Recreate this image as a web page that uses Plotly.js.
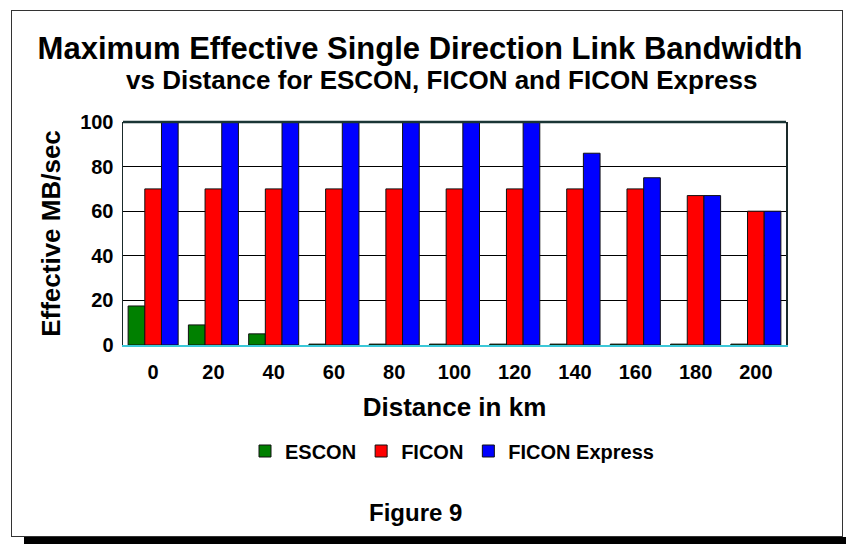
<!DOCTYPE html>
<html>
<head>
<meta charset="utf-8">
<script src="https://cdn.plot.ly/plotly-3.0.1.min.js"></script>
<style>
  html, body { margin: 0; padding: 0; background: #fff; }
  #wrap { position: relative; width: 846px; height: 544px; overflow: hidden; }
  #frame { position: absolute; left: 11px; top: 10px; width: 830px; height: 525px; border: 1.5px solid #333; }
  #shadow { position: absolute; left: 24px; top: 537px; width: 822px; height: 7px; background: #000; }
  #chart { position: absolute; left: 0; top: 0; width: 846px; height: 544px; }
</style>
</head>
<body>
<div id="wrap">
  <div id="frame"></div>
  <div id="shadow"></div>
  <div id="chart"></div>
</div>
<script>
const distances = ['0', '20', '40', '60', '80', '100', '120', '140', '160', '180', '200'];
const escon = [17.5, 9, 5, 0.4, 0.4, 0.4, 0.4, 0.4, 0.4, 0.4, 0.4];
const ficon = [70, 70, 70, 70, 70, 70, 70, 70, 70, 67, 60];
const ficonExpress = [100, 100, 100, 100, 100, 100, 100, 86, 75, 67, 60];
const yTicks = [0, 20, 40, 60, 80, 100];

const FONT = 'Liberation Sans, Arial, Helvetica, sans-serif';
const line = { color: '#111', width: 1 };

const traces = [
  { type: 'bar', name: '<b>ESCON</b>', x: distances, y: escon, marker: { color: '#008000', line: line } },
  { type: 'bar', name: '<b>FICON</b>', x: distances, y: ficon, marker: { color: '#FF0000', line: line } },
  { type: 'bar', name: '<b>FICON Express</b>', x: distances, y: ficonExpress, marker: { color: '#0000FF', line: line } }
];

const L = 123, R = 60, T = 122, B = 199;
const W = 846, H = 544;
const pw = W - L - R, ph = H - T - B;
const px2x = p => (p - L) / pw;
const py2y = p => (H - B - p) / ph;

const layout = {
  width: W, height: H,
  paper_bgcolor: 'rgba(0,0,0,0)',
  plot_bgcolor: '#fff',
  margin: { l: L, r: R, t: T, b: B, pad: 0 },
  font: { family: FONT, color: '#000' },
  barmode: 'group',
  bargap: 0.17,
  bargroupgap: 0,
  showlegend: true,
  title: {
    text: '<b>Maximum Effective Single Direction Link Bandwidth</b>',
    font: { family: FONT, size: 31, color: '#000' },
    x: 420 / W, xref: 'container', xanchor: 'center',
    y: 1 - 48 / H, yref: 'container', yanchor: 'middle'
  },
  xaxis: {
    type: 'category',
    tickvals: distances,
    ticktext: distances.map(d => '<b>' + d + '</b>'),
    tickfont: { family: FONT, size: 20, color: '#000' },
    ticks: 'outside', ticklen: 8, tickcolor: 'rgba(0,0,0,0)',
    showline: true, linecolor: '#3cc8d8', linewidth: 2,
    showgrid: false, zeroline: false,
    title: { text: '<b>Distance in km</b>', font: { family: FONT, size: 26, color: '#000' }, standoff: 16 }
  },
  yaxis: {
    range: [0, 100],
    tickvals: yTicks,
    ticktext: yTicks.map(v => '<b>' + v + '</b>'),
    tickfont: { family: FONT, size: 20, color: '#000' },
    ticks: 'outside', ticklen: 4, tickcolor: 'rgba(0,0,0,0)',
    showline: true, linecolor: '#1a2a2a', linewidth: 1.5, mirror: true,
    showgrid: true, gridcolor: '#000', gridwidth: 1,
    zeroline: false,
    title: { text: '<b>Effective MB/sec</b>', font: { family: FONT, size: 26, color: '#000' }, standoff: 12 }
  },
  legend: {
    orientation: 'h',
    x: px2x(452), xanchor: 'center',
    y: py2y(451), yanchor: 'middle',
    font: { family: FONT, size: 20, color: '#000' },
    bgcolor: 'rgba(0,0,0,0)',
    itemwidth: 30
  },
  shapes: [
    { type: 'line', xref: 'paper', yref: 'paper', x0: 0, x1: 1, y0: 1, y1: 1, line: { color: '#1a3535', width: 2.5 } }
  ],
  annotations: [
    { text: '<b>vs Distance for ESCON, FICON and FICON Express</b>', xref: 'paper', yref: 'paper',
      x: px2x(441), y: py2y(80), xanchor: 'center', yanchor: 'middle', showarrow: false,
      font: { family: FONT, size: 26, color: '#000' } },
    { text: '<b>Figure 9</b>', xref: 'paper', yref: 'paper',
      x: px2x(415), y: py2y(512), xanchor: 'center', yanchor: 'middle', showarrow: false,
      font: { family: FONT, size: 24, color: '#000' } }
  ]
};

Plotly.newPlot('chart', traces, layout, { displayModeBar: false, staticPlot: true });
</script>
</body>
</html>
